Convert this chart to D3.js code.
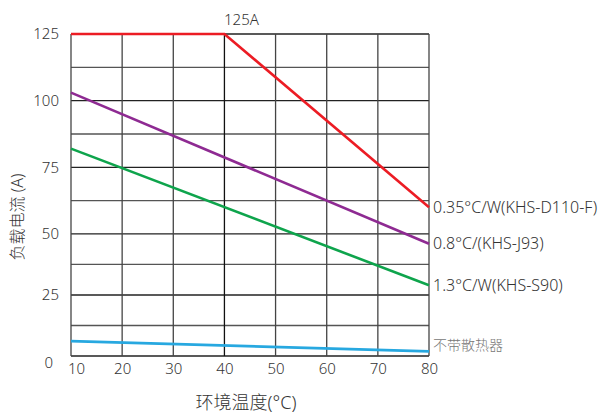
<!DOCTYPE html>
<html>
<head>
<meta charset="utf-8">
<script src="https://cdn.jsdelivr.net/npm/d3@7"></script>
<style>
  body{margin:0;background:#fff;}
  text{font-family:"Noto Sans","Noto Sans CJK SC",sans-serif;font-weight:300;}
</style>
</head>
<body>
<svg></svg>
<script>
// temperature (x) and load current (y)
var temps=[10,20,30,40,50,60,70,80];
var gridY=[0,12.5,25,37.5,50,62.5,75,87.5,100,112.5,125];
var tickY=[0,25,50,75,100,125];

var seriesNames=["0.35°C/W(KHS-D110-F)","0.8°C/(KHS-J93)","1.3°C/W(KHS-S90)","不带散热器"];
var seriesColors=["#ec1c24","#8e2a92","#0ea44c","#27a8e0"];
var redLine=[[10,125],[40,125],[80,60]];
var purpleLine=[[10,103],[80,46]];
var greenLine=[[10,82],[80,29]];
var blueLine=[[10,6.1],[80,1.9]];
var allLines=[redLine,purpleLine,greenLine,blueLine];

var drawGraph=function(w,h)
{
  var svg=d3.select("svg")
            .attr("width",w)
            .attr("height",h);
  var margins={top:34,bottom:61,left:71,right:185};
  var width=w-margins.left-margins.right;
  var height=h-margins.top-margins.bottom;

  var xScale=d3.scaleLinear()
               .domain([10,80])
               .range([0,width]);
  // the source picture spaces its lower grid rows a bit tighter
  var yScale=d3.scaleLinear()
               .domain([0,50,125])
               .range([height,height*0.621,0]);

  var plot=svg.append("g")
              .attr("transform","translate("+margins.left+","+margins.top+")");

  // grid
  plot.selectAll(".hgrid")
      .data(gridY)
      .enter()
      .append("line")
      .attr("x1",0)
      .attr("x2",width)
      .attr("y1",function(d){return yScale(d);})
      .attr("y2",function(d){return yScale(d);})
      .attr("stroke",function(d,i){return i%2==0?"#222":"#555";})
      .attr("stroke-width",1.3);
  plot.selectAll(".vgrid")
      .data(temps)
      .enter()
      .append("line")
      .attr("x1",function(d){return xScale(d);})
      .attr("x2",function(d){return xScale(d);})
      .attr("y1",0)
      .attr("y2",height)
      .attr("stroke",function(d){return d==40?"#111":"#444";})
      .attr("stroke-width",1.3);

  // axes (labels only, grid drawn above)
  var xAxis=d3.axisBottom(xScale).tickValues(temps).tickSize(0).tickPadding(7);
  var gx=plot.append("g")
             .attr("transform","translate(0,"+height+")")
             .call(xAxis);
  gx.select(".domain").remove();
  gx.selectAll("text")
    .attr("font-size",15)
    .attr("fill","#333")
    .attr("dx",function(d){return d==10?5:0;});

  var yAxis=d3.axisLeft(yScale).tickValues(tickY).tickSize(0).tickPadding(12);
  var gy=plot.append("g").call(yAxis);
  gy.select(".domain").remove();
  gy.selectAll("text")
    .attr("font-size",15)
    .attr("fill","#333")
    .attr("dx",function(d){return d==0?-6:0;})
    .attr("dy",function(d){return d==0?"0.75em":"0.32em";});

  // curves
  var line=d3.line()
             .x(function(d){return xScale(d[0]);})
             .y(function(d){return yScale(d[1]);});
  plot.selectAll(".curve")
      .data(allLines)
      .enter()
      .append("path")
      .attr("d",line)
      .attr("fill","none")
      .attr("stroke",function(d,i){return seriesColors[i];})
      .attr("stroke-width",2.6);

  // labels at the right end
  plot.selectAll(".lbl")
      .data(allLines)
      .enter()
      .append("text")
      .attr("x",width+4)
      .attr("y",function(d){return yScale(d[d.length-1][1]);})
      .attr("dy",function(d,i){return i==3?"-0.1em":"0.35em";})
      .attr("font-size",function(d,i){return i==3?14:16;})
      .attr("fill",function(d,i){return i==3?"#777":"#333";})
      .text(function(d,i){return seriesNames[i];});

  plot.append("text")
      .attr("x",xScale(40)+17)
      .attr("y",-9)
      .attr("text-anchor","middle")
      .attr("font-size",15)
      .attr("fill","#333")
      .text("125A");

  svg.append("text")
     .attr("x",margins.left+width/2-4)
     .attr("y",h-8)
     .attr("text-anchor","middle")
     .attr("font-size",18)
     .attr("fill","#333")
     .text("环境温度(°C)");

  svg.append("text")
     .attr("transform","translate(23,217) rotate(-90)")
     .attr("text-anchor","middle")
     .attr("font-size",16)
     .attr("fill","#333")
     .text("负载电流 (A)");
};

drawGraph(614,417);
</script>
</body>
</html>
